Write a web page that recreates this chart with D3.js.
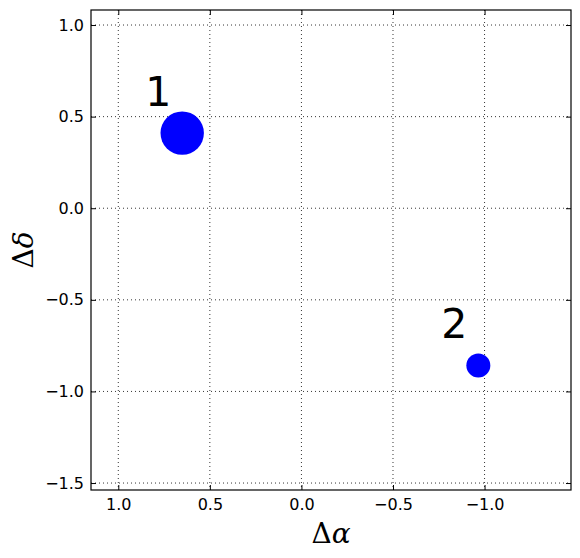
<!DOCTYPE html>
<html><head><meta charset="utf-8">
<script src="https://cdn.jsdelivr.net/npm/d3@7"></script>
<style>body{margin:0;background:#fff}</style>
</head><body>
<script>
const labels = ["1", "2"];
const dAlpha = [0.651, -0.966];
const dDelta = [0.410, -0.858];
const sizes = [3.27, 1.0];
const xTicks = [1.0, 0.5, 0.0, -0.5, -1.0];
const yTicks = [1.0, 0.5, 0.0, -0.5, -1.0, -1.5];

const W = 580, H = 558;
const m = {left: 91, top: 10, right: 9, bottom: 68};
const iw = W - m.left - m.right, ih = H - m.top - m.bottom;

const svg = d3.select("body").append("svg").attr("width", W).attr("height", H);
const g = svg.append("g").attr("transform", `translate(${m.left},${m.top})`);

const x = d3.scaleLinear().domain([1.149, -1.472]).range([0, iw]);
const y = d3.scaleLinear().domain([1.082, -1.538]).range([0, ih]);
const r = d3.scaleSqrt().domain([0, 3.27]).range([0, 21.7]);

const fmt = d => d3.format(".1f")(d).replace("-", "\u2212");

// grid
g.append("g").selectAll("line").data(xTicks).join("line")
  .attr("x1", d => x(d)).attr("x2", d => x(d)).attr("y1", 0).attr("y2", ih)
  .attr("stroke", "#000").attr("stroke-width", 0.8).attr("stroke-dasharray", "1,3");
g.append("g").selectAll("line").data(yTicks).join("line")
  .attr("y1", d => y(d)).attr("y2", d => y(d)).attr("x1", 0).attr("x2", iw)
  .attr("stroke", "#000").attr("stroke-width", 0.8).attr("stroke-dasharray", "1,3");

// axes (inward ticks on all sides)
function styleAxis(sel) {
  sel.attr("font-size", null).attr("font-family", null);
  sel.select(".domain").remove();
  sel.selectAll(".tick line").attr("stroke", "#000").attr("stroke-width", 1);
  sel.selectAll(".tick text").style("font-family", "'DejaVu Sans'").style("font-size", "16px").attr("fill", "#000");
}
const xb = g.append("g").attr("transform", `translate(0,${ih})`)
  .call(d3.axisBottom(x).tickValues(xTicks).tickFormat(fmt).tickSizeInner(-5).tickPadding(9));
styleAxis(xb);
const xt = g.append("g")
  .call(d3.axisTop(x).tickValues(xTicks).tickFormat("").tickSizeInner(-5));
styleAxis(xt);
const yl = g.append("g")
  .call(d3.axisLeft(y).tickValues(yTicks).tickFormat(fmt).tickSizeInner(-5).tickPadding(7));
styleAxis(yl);
const yr = g.append("g").attr("transform", `translate(${iw},0)`)
  .call(d3.axisRight(y).tickValues(yTicks).tickFormat("").tickSizeInner(-5));
styleAxis(yr);

// frame
g.append("rect").attr("x", 0).attr("y", 0).attr("width", iw).attr("height", ih)
  .attr("fill", "none").attr("stroke", "#000").attr("stroke-width", 1.2);

// points
const pts = labels.map((l, i) => ({l, a: dAlpha[i], d: dDelta[i], s: sizes[i]}));
g.append("g").selectAll("circle").data(pts).join("circle")
  .attr("cx", d => x(d.a)).attr("cy", d => y(d.d)).attr("r", d => r(d.s))
  .attr("fill", "#0000ff");
g.append("g").selectAll("text").data(pts).join("text")
  .attr("x", d => x(d.a) - 24).attr("y", d => y(d.d) - 27)
  .attr("text-anchor", "middle").attr("font-family", "DejaVu Sans").attr("font-size", 41)
  .text(d => d.l);

// axis labels
const xl = svg.append("text").attr("x", m.left + iw / 2).attr("y", 543)
  .attr("text-anchor", "middle").attr("font-family", "DejaVu Serif").attr("font-size", 28);
xl.append("tspan").text("\u0394");
xl.append("tspan").attr("font-style", "italic").text("\u03b1");
const ylab = svg.append("text").attr("transform", `translate(33,${m.top + ih / 2}) rotate(-90)`)
  .attr("text-anchor", "middle").attr("font-family", "DejaVu Serif").attr("font-size", 28);
ylab.append("tspan").text("\u0394");
ylab.append("tspan").attr("font-style", "italic").text("\u03b4");
</script>
</body></html>
